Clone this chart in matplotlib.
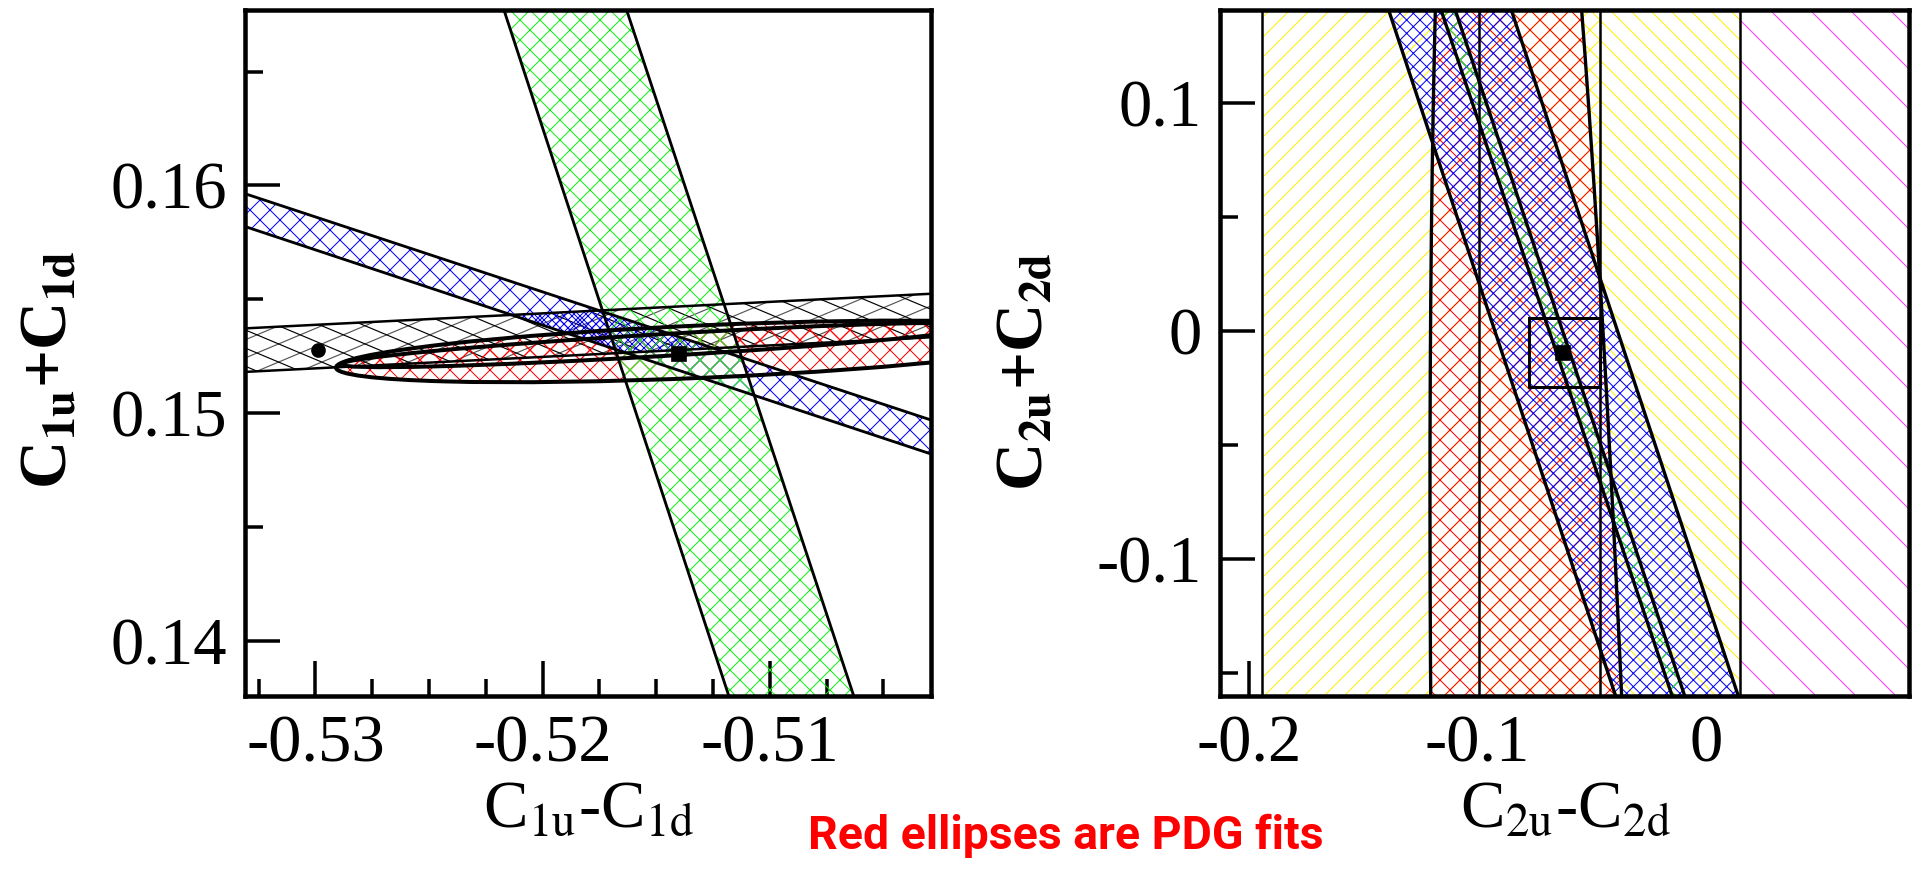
import numpy as np
import matplotlib
matplotlib.use("Agg")
import matplotlib.pyplot as plt
from matplotlib.patches import Polygon, Ellipse, Rectangle
from matplotlib.collections import LineCollection
from matplotlib.ticker import MultipleLocator, FixedLocator

DPI = 120
plt.rcParams['font.family'] = ['Liberation Serif', 'DejaVu Serif']
plt.rcParams['mathtext.fontset'] = 'stix'
plt.rcParams['axes.unicode_minus'] = False
plt.rcParams['hatch.linewidth'] = 0.6

# ---------------- left panel: C1u-C1d vs C1u+C1d ----------------
c1_xlim = (-0.5331, -0.5029)
c1_ylim = (0.1376, 0.1677)
c1_xticks = [-0.53, -0.52, -0.51]
c1_yticks = [0.14, 0.15, 0.16]

# green band (steep): x of both edges at top / bottom of the frame
c1_green_y = [0.1677, 0.1376]
c1_green_lo = [-0.5217, -0.5118]
c1_green_hi = [-0.5163, -0.5063]
# shallow bands: y of both edges at left / right of the frame
c1_band_x = [-0.5331, -0.5029]
c1_blue_lo = [0.15820, 0.14822]
c1_blue_hi = [0.15964, 0.14971]
c1_black_lo = [0.15182, 0.15334]
c1_black_hi = [0.15373, 0.15525]
# PDG ellipses: centre x, centre y, half length, half width, tilt (deg)
c1_pdg = [(-0.51277, 0.15272, 0.01634, 0.00115, 2.5),
          (-0.51468, 0.15300, 0.01425, 0.00048, 3.4)]
c1_dot = (-0.5299, 0.15276)
c1_square = (-0.5140, 0.15261)

# ---------------- right panel: C2u-C2d vs C2u+C2d ----------------
c2_xlim = (-0.2126, 0.0885)
c2_ylim = (-0.1599, 0.1408)
c2_xticks = [-0.2, -0.1, 0.0]
c2_yticks = [-0.1, 0.0, 0.1]

c2_yellow_a = (-0.1944, -0.0466)   # '/' hatch
c2_yellow_b = (-0.0994, 0.0145)    # '\' hatch
c2_magenta = (0.0145, 0.12)
c2_band_y = [0.1408, -0.1599]
c2_blue_lo = [-0.1389, -0.0397]
c2_blue_hi = [-0.0853, 0.0139]
c2_green_lo = [-0.1160, -0.0150]
c2_green_hi = [-0.1098, -0.0095]
# PDG ellipse (sheared): centre x, centre y, half height, half width, shear dx/dy
c2_pdg = (-0.0715, -0.444, 0.845, 0.0443, -0.0257)
c2_box_x = (-0.0774, -0.0467)
c2_box_y = (-0.0243, 0.0059)
c2_square = (-0.0626, -0.0094)

GREEN = '#11ee11'


def cross(u, v):
    return u[0] * v[1] - u[1] * v[0]


def clip_poly(subject, clipper):
    # Sutherland-Hodgman, clipper convex and counter-clockwise
    out = [np.asarray(p, float) for p in subject]
    clipper = [np.asarray(p, float) for p in clipper]
    for i in range(len(clipper)):
        a, b = clipper[i], clipper[(i + 1) % len(clipper)]
        inp, out = out, []
        for j in range(len(inp)):
            p, q = inp[j - 1], inp[j]
            pin = cross(b - a, p - a) >= 0
            qin = cross(b - a, q - a) >= 0
            if qin:
                if not pin:
                    d1 = q - p
                    out.append(p + cross(a - p, b - a) / cross(d1, b - a) * d1)
                out.append(q)
            elif pin:
                d1 = q - p
                out.append(p + cross(a - p, b - a) / cross(d1, b - a) * d1)
    return np.array(out)


def hband(x, lo, hi):
    return np.array([(x[0], lo[0]), (x[1], lo[1]), (x[1], hi[1]), (x[0], hi[0])])


def vband(y, lo, hi):
    return np.array([(lo[1], y[1]), (hi[1], y[1]), (hi[0], y[0]), (lo[0], y[0])])


def hatched(ax, verts, color, hatch, z):
    p = Polygon(verts, closed=True, facecolor='none', edgecolor=color,
                lw=0, hatch=hatch, zorder=z)
    ax.add_patch(p)
    return p


def coarse_hatch(ax, clip_patch, step=0.063, slope=0.42):
    up, down = [], []
    for x0 in np.arange(-3.0, 1.5, step):
        up.append([(x0, 0), (x0 + 1 / slope, 1)])
        down.append([(x0, 1), (x0 + 1 / slope, 0)])
    for segs, col in ((up, '#555555'), (down, 'black')):
        lc = LineCollection(segs, colors=col, lw=0.7, transform=ax.transAxes, zorder=1.2)
        ax.add_collection(lc)
        lc.set_clip_path(clip_patch)


def style_axes(ax):
    for s in ax.spines.values():
        s.set_linewidth(2.7)
    ax.tick_params(which='both', direction='in', top=False, right=False,
                   width=2.1, labelsize=40, pad=11)
    ax.tick_params(which='major', length=21)
    ax.tick_params(which='minor', length=10.5)


fig = plt.figure(figsize=(1921 / DPI, 887 / DPI), dpi=DPI)
W, H = 1921.0, 887.0
ax1 = fig.add_axes([245 / W, 1 - 696 / H, 686 / W, 686 / H])
ax2 = fig.add_axes([1220 / W, 1 - 696 / H, 689 / W, 686 / H])

# ---- left panel ----
ax1.set_xlim(c1_xlim)
ax1.set_ylim(c1_ylim)

black = hband(c1_band_x, c1_black_lo, c1_black_hi)
black_patch = Polygon(black, closed=True, facecolor='none', edgecolor='none', lw=0, zorder=1)
ax1.add_patch(black_patch)
coarse_hatch(ax1, black_patch)

for cx, cy, a, b, ang in c1_pdg:
    ax1.add_patch(Ellipse((cx, cy), 2 * a, 2 * b, angle=ang, facecolor='none',
                          edgecolor='red', lw=0, hatch='xx', zorder=1.5))

blue = hband(c1_band_x, c1_blue_lo, c1_blue_hi)
hatched(ax1, blue, 'blue', 'xx', 2)
hatched(ax1, clip_poly(blue, black), 'blue', 'xxxxx', 2.1)
green = vband(c1_green_y, c1_green_lo, c1_green_hi)
hatched(ax1, green, GREEN, 'xx', 2.2)

for cx, cy, a, b, ang in c1_pdg:
    ax1.add_patch(Ellipse((cx, cy), 2 * a, 2 * b, angle=ang, facecolor='none',
                          edgecolor='black', lw=2.4, zorder=3))
for lo, hi, lw in ((c1_black_lo, c1_black_hi, 1.5), (c1_blue_lo, c1_blue_hi, 1.7)):
    ax1.plot(c1_band_x, lo, color='black', lw=lw, zorder=3)
    ax1.plot(c1_band_x, hi, color='black', lw=lw, zorder=3)
ax1.plot(c1_green_lo, c1_green_y, color='black', lw=1.7, zorder=3)
ax1.plot(c1_green_hi, c1_green_y, color='black', lw=1.7, zorder=3)

ax1.plot(*c1_dot, 'o', color='black', ms=7.8, zorder=5)
ax1.plot(*c1_square, 's', color='black', ms=8, zorder=5)

ax1.xaxis.set_major_locator(FixedLocator(c1_xticks))
ax1.yaxis.set_major_locator(FixedLocator(c1_yticks))
ax1.xaxis.set_minor_locator(MultipleLocator(0.0025))
ax1.yaxis.set_minor_locator(MultipleLocator(0.005))
ax1.set_xticklabels(['%g' % v for v in c1_xticks])
ax1.set_yticklabels(['%g' % v for v in c1_yticks])
style_axes(ax1)

# ---- right panel ----
ax2.set_xlim(c2_xlim)
ax2.set_ylim(c2_ylim)

ax2.axvspan(*c2_yellow_a, facecolor='none', edgecolor='#ffee00', lw=0, hatch='//', zorder=1)
ax2.axvspan(*c2_yellow_b, facecolor='none', edgecolor='#ffee00', lw=0, hatch='\\\\', zorder=1)
ax2.axvspan(*c2_magenta, facecolor='none', edgecolor='#ff33ff', lw=0, hatch='\\', zorder=1)

t = np.linspace(0, 2 * np.pi, 600)
ex, ey, ea, eb, es = c2_pdg
pdg_y = ey + ea * np.sin(t)
pdg_x = ex + es * (pdg_y - ey) + eb * np.cos(t)
pdg = np.column_stack([pdg_x, pdg_y])
hatched(ax2, pdg, 'red', 'xx', 1.5)
hatched(ax2, vband(c2_band_y, c2_blue_lo, c2_blue_hi), 'blue', 'xxx', 2)
hatched(ax2, vband(c2_band_y, c2_green_lo, c2_green_hi), GREEN, 'xx', 2.2)

for x in list(c2_yellow_a) + list(c2_yellow_b):
    ax2.axvline(x, color='black', lw=1.5, zorder=3)
ax2.plot(pdg_x, pdg_y, color='black', lw=2.0, zorder=3)
for lo, hi in ((c2_blue_lo, c2_blue_hi), (c2_green_lo, c2_green_hi)):
    ax2.plot(lo, c2_band_y, color='black', lw=2.0, zorder=3)
    ax2.plot(hi, c2_band_y, color='black', lw=2.0, zorder=3)
ax2.add_patch(Rectangle((c2_box_x[0], c2_box_y[0]), c2_box_x[1] - c2_box_x[0],
                        c2_box_y[1] - c2_box_y[0], facecolor='none',
                        edgecolor='black', lw=1.8, zorder=4))
ax2.plot(*c2_square, 's', color='black', ms=8, zorder=5)

ax2.xaxis.set_major_locator(FixedLocator(c2_xticks))
ax2.yaxis.set_major_locator(FixedLocator(c2_yticks))
ax2.yaxis.set_minor_locator(MultipleLocator(0.05))
ax2.set_xticklabels(['%g' % v for v in c2_xticks])
ax2.set_yticklabels(['%g' % v for v in c2_yticks])
style_axes(ax2)
for tk in ax2.xaxis.get_major_ticks()[1:]:
    tk.tick1line.set_visible(False)

# ---- labels ----
fig.text(588 / W, 1 - 810 / H, r'C$_{\mathrm{1u}}$-C$_{\mathrm{1d}}$', fontsize=40,
         ha='center', va='center')
fig.text(1565 / W, 1 - 810 / H, r'C$_{\mathrm{2u}}$-C$_{\mathrm{2d}}$', fontsize=40,
         ha='center', va='center')
fig.text(50 / W, 1 - 370 / H, r'C$_{\mathbf{1u}}$+C$_{\mathbf{1d}}$', fontsize=40,
         fontweight='bold', rotation=90, ha='center', va='center')
fig.text(1026 / W, 1 - 372 / H, r'C$_{\mathbf{2u}}$+C$_{\mathbf{2d}}$', fontsize=40,
         fontweight='bold', rotation=90, ha='center', va='center')

note = fig.text(1066 / W, 1 - 836 / H, 'Red ellipses are PDG fits', color='red',
                fontsize=30, fontweight='bold', family=['Roboto', 'DejaVu Sans'],
                ha='center', va='center')
fig.canvas.draw()
wpx = note.get_window_extent().width
note.set_fontsize(30 * 515.0 / wpx)

fig.savefig('out.png', dpi=DPI)
